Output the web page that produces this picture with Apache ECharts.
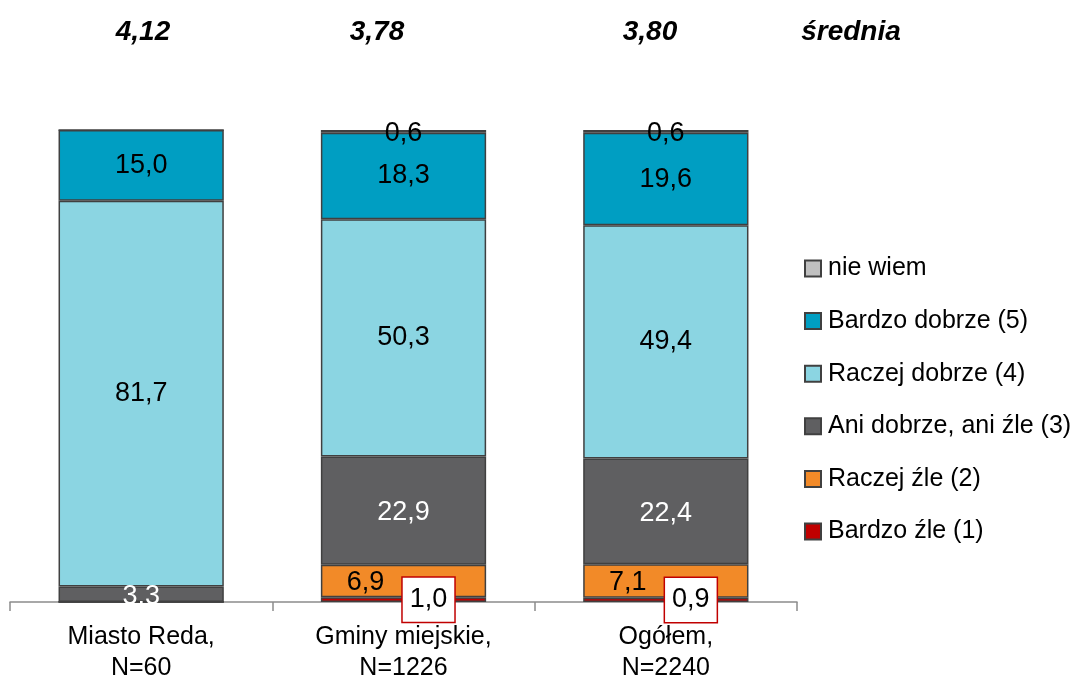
<!DOCTYPE html>
<html>
<head>
<meta charset="utf-8">
<script src="https://cdn.jsdelivr.net/npm/echarts@6/dist/echarts.min.js"></script>
<style>
    html, body { margin: 0; padding: 0; background: #fff; }
    #chart { width: 1080px; height: 683px; }
</style>
</head>
<body>
<div id="chart"></div>
<script>
// dane
const categories = ['Miasto Reda,\nN=60', 'Gminy miejskie,\nN=1226', 'Ogółem,\nN=2240'];
const averages = [4.12, 3.78, 3.80];
const bardzoZle = [0, 1.0, 0.9];
const raczejZle = [0, 6.9, 7.1];
const aniDobrzeAniZle = [3.3, 22.9, 22.4];
const raczejDobrze = [81.7, 50.3, 49.4];
const bardzoDobrze = [15.0, 18.3, 19.6];
const nieWiem = [0, 0.6, 0.6];

const FONT = '"Liberation Sans", Arial, sans-serif';
const fmt = (v) => v.toFixed(1).replace('.', ',');

const makeSeries = (name, data, color, labelExtra) => ({
    name: name,
    type: 'bar',
    stack: 'total',
    barWidth: '63%',
    // zero values get no label (no empty box either)
    data: data.map((v) => (v === 0 ? { value: v, label: { show: false } } : v)),
    itemStyle: {
        color: color,
        borderColor: '#404040',
        borderWidth: 1.5,
    },
    label: {
        show: true,
        position: 'inside',
        formatter: (p) => fmt(p.value),
        fontFamily: FONT,
        fontSize: 27,
        color: '#000',
        ...labelExtra,
    },
});

const series = [
    makeSeries('Bardzo źle (1)', bardzoZle, '#c00000', {
        offset: [25, 0],
        backgroundColor: '#fff',
        borderColor: '#c00000',
        borderWidth: 1.5,
        padding: [9, 7, 8, 7],
    }),
    makeSeries('Raczej źle (2)', raczejZle, '#f28a28', { offset: [-38, 2] }),
    makeSeries('Ani dobrze, ani źle (3)', aniDobrzeAniZle, '#5f5f61', { color: '#fff', offset: [0, 2] }),
    makeSeries('Raczej dobrze (4)', raczejDobrze, '#8bd5e2', {}),
    makeSeries('Bardzo dobrze (5)', bardzoDobrze, '#009ec2', {}),
    makeSeries('nie wiem', nieWiem, '#c0c0c0', { offset: [0, 2] }),
];

const avgX = [143, 377, 650];
const headerTexts = averages.map((v, i) => ({
    type: 'text',
    x: avgX[i],
    y: 32,
    style: {
        text: v.toFixed(2).replace('.', ','),
        textAlign: 'center',
        textVerticalAlign: 'middle',
        fill: '#000',
        font: 'italic bold 28px ' + FONT,
    },
}));
headerTexts.push({
    type: 'text',
    x: 851,
    y: 32,
    style: {
        text: 'średnia',
        textAlign: 'center',
        textVerticalAlign: 'middle',
        fill: '#000',
        font: 'italic bold 28px ' + FONT,
    },
});

const myChart = echarts.init(document.getElementById('chart'));
myChart.setOption({
    animation: false,
    grid: {
        left: 10,
        right: 283,
        top: 130,
        bottom: 81,
        outerBoundsMode: 'none',
    },
    legend: {
        orient: 'vertical',
        left: 799,
        top: 251,
        itemWidth: 16,
        itemHeight: 16,
        itemGap: 27.6,
        icon: 'rect',
        data: ['nie wiem', 'Bardzo dobrze (5)', 'Raczej dobrze (4)', 'Ani dobrze, ani źle (3)', 'Raczej źle (2)', 'Bardzo źle (1)'],
        textStyle: {
            fontFamily: FONT,
            fontSize: 25,
            color: '#000',
            padding: [0, 0, 0, 2],
        },
    },
    xAxis: {
        type: 'category',
        data: categories,
        axisLine: { lineStyle: { color: '#8c8c8c', width: 1.5 } },
        axisTick: { show: true, length: 9, lineStyle: { color: '#8c8c8c', width: 1.5 } },
        axisLabel: {
            interval: 0,
            fontFamily: FONT,
            fontSize: 25,
            lineHeight: 31,
            color: '#000',
            margin: 20,
        },
    },
    yAxis: {
        type: 'value',
        min: 0,
        max: 100,
        show: false,
    },
    graphic: headerTexts,
    series: series,
});
</script>
</body>
</html>
